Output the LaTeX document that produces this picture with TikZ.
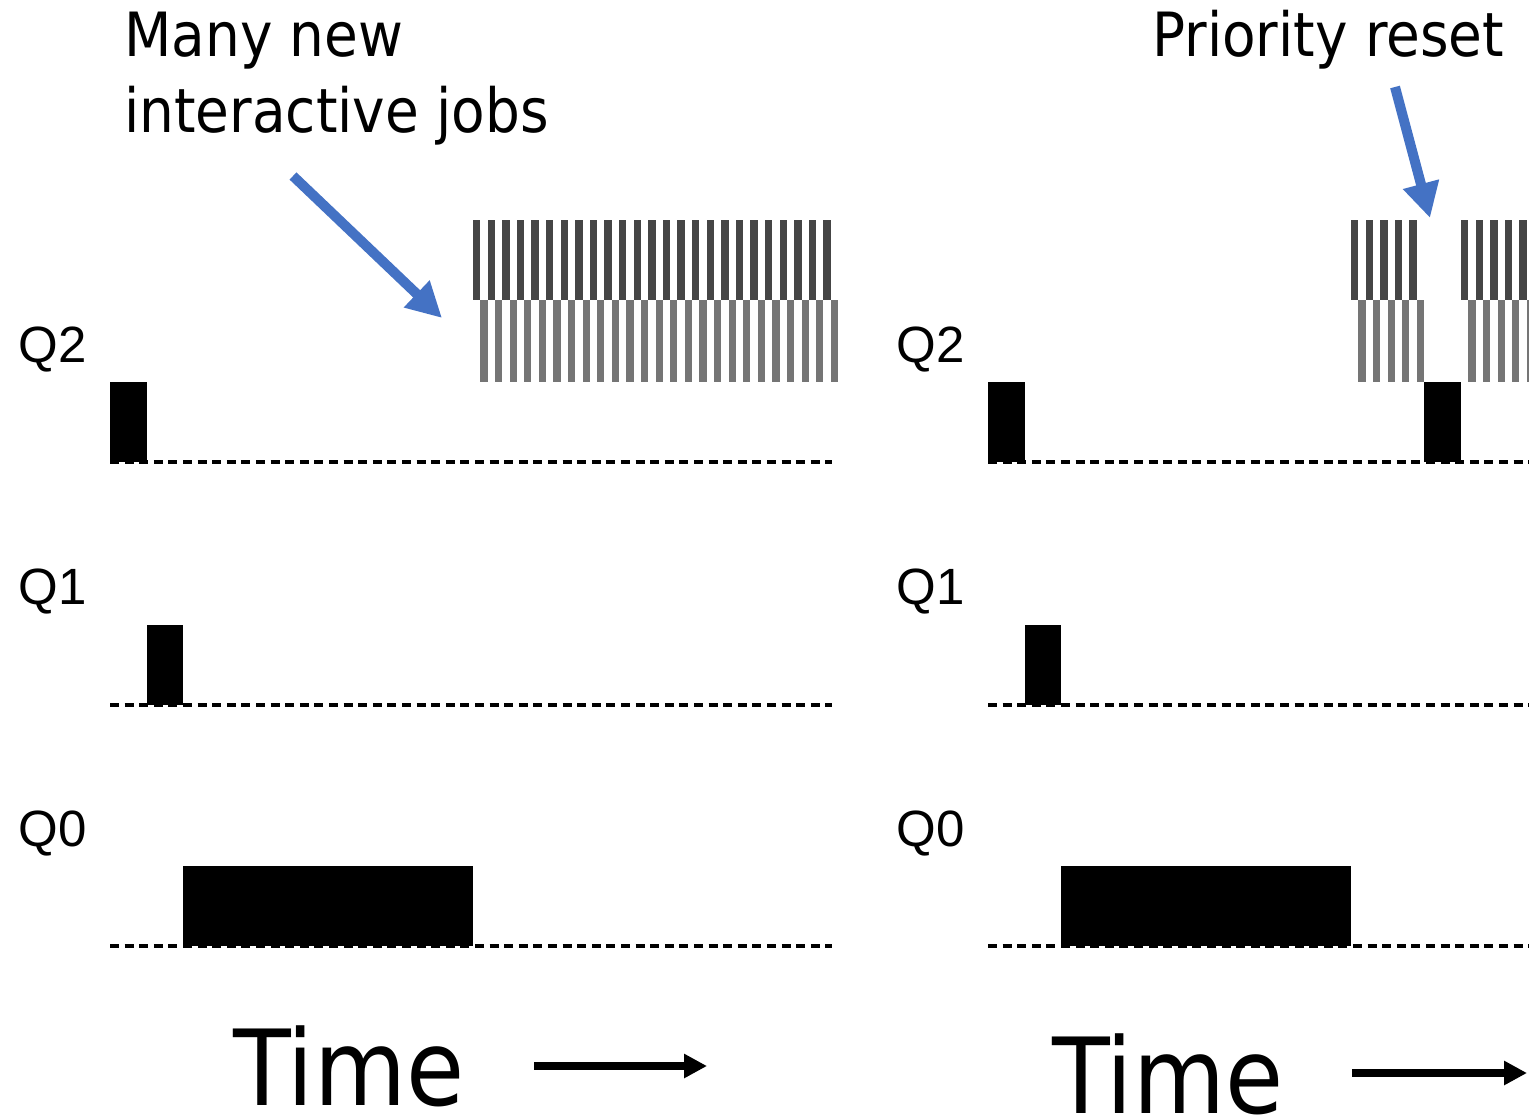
\documentclass[tikz,border=0pt]{standalone}
\usepackage{fontspec}
\setmainfont{DejaVu Sans Condensed}
\newfontfamily\qfont{Liberation Sans}
\usetikzlibrary{arrows.meta}
\definecolor{callout}{RGB}{68,114,196}
\definecolor{stripedark}{RGB}{69,69,69}
\definecolor{stripelight}{RGB}{117,117,117}
\tikzset{
    queuelabel/.style={anchor=base west, inner sep=0pt, font=\qfont\fontsize{25.5}{30}\selectfont},
    note/.style={anchor=base west, inner sep=0pt, align=left, font=\fontsize{30.5}{38}\selectfont},
    timelabel/.style={anchor=base west, inner sep=0pt, font=\fontsize{52.5}{60}\selectfont},
    job/.style={fill=black},
    queueline/.style={dash pattern=on 4.5pt off 2.8pt, line width=2pt},
    darkslice/.style={fill=stripedark},
    lightslice/.style={fill=stripelight},
    callarr/.style={-{Triangle[length=17.5pt, width=17.5pt]}, line width=5pt, callout},
    timearr/.style={-{Triangle[length=11.5pt, width=11.5pt]}, line width=4pt}
}

\begin{document}
\begin{tikzpicture}[x=0.5pt, y=-0.5pt]
    \useasboundingbox (0,0) rectangle (1529,1117);
    \clip (0,0) rectangle (1529,1117);

    % queues, both panels
    \foreach \o/\e in {0/832, 878/1540} {
        \node[queuelabel] (qtwo-\o) at (18+\o,362) {Q2};
        \node[queuelabel] (qone-\o) at (18+\o,604) {Q1};
        \node[queuelabel] (qzero-\o) at (18+\o,846) {Q0};
        \draw[queueline] (110+\o,462) -- (\e,462);
        \draw[queueline] (110+\o,705) -- (\e,705);
        \draw[queueline] (110+\o,946) -- (\e,946);
        \fill[job] (110+\o,382) rectangle (147+\o,462);
        \fill[job] (147+\o,625) rectangle (183+\o,705);
        \fill[job] (183+\o,866) rectangle (473+\o,946);
    }

    % left: interactive jobs
    \foreach \i in {0,...,24} {
        \fill[darkslice] ({473+\i*14.6},220) rectangle +(7.3,80);
        \fill[lightslice] ({480.3+\i*14.6},300) rectangle +(7.3,82);
    }

    % right: jobs with priority reset
    \foreach \i in {0,...,4} {
        \fill[darkslice] ({1351+\i*14.6},220) rectangle +(7.3,80);
        \fill[lightslice] ({1358.3+\i*14.6},300) rectangle +(7.3,82);
        \fill[darkslice] ({1461+\i*14.6},220) rectangle +(7.3,80);
        \fill[lightslice] ({1468.3+\i*14.6},300) rectangle +(7.3,82);
    }
    \fill[job] (1424,382) rectangle (1461,462);

    % annotations
    \node[note] (manyjobs) at (124,133) {Many new\\interactive jobs};
    \node[note] (reset) at (1152,57) {Priority reset};
    \coordinate (manytail) at (293,176);
    \coordinate (manytip) at (442,318);
    \coordinate (resettail) at (1395,87);
    \coordinate (resettip) at (1430,218);
    \draw[callarr] (manytail) -- (manytip);
    \draw[callarr] (resettail) -- (resettip);

    % time axis
    \node[timelabel] (timeleft) at (233,1105) {Time};
    \node[timelabel] (timeright) at (1052,1113) {Time};
    \coordinate (lefttail) at (534,1066);
    \coordinate (lefttip) at (707,1066);
    \coordinate (righttail) at (1352,1073);
    \coordinate (righttip) at (1527,1073);
    \draw[timearr] (lefttail) -- (lefttip);
    \draw[timearr] (righttail) -- (righttip);
\end{tikzpicture}
\end{document}
